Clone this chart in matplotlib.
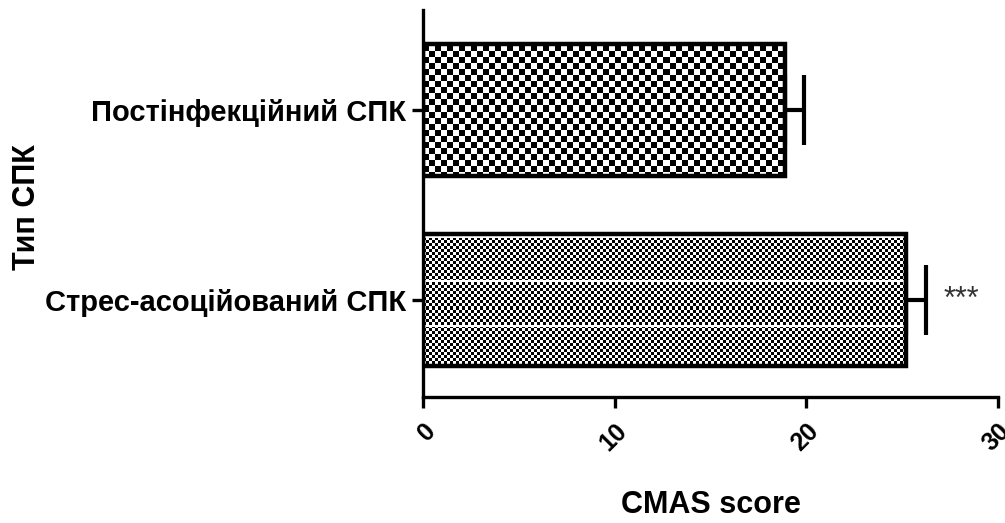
import numpy as np
import matplotlib
matplotlib.use('Agg')
import matplotlib.pyplot as plt

plt.rcParams['font.family'] = ['Liberation Sans', 'DejaVu Sans']

# CMAS score by IBS type (mean, SEM)
groups = ['Стрес-асоційований СПК', 'Постінфекційний СПК']
means = [25.2, 18.9]
errs = [1.05, 1.0]
marks = ['***', '']
x_ticks = [0, 10, 20, 30]

fig = plt.figure(figsize=(10.05, 5.23), dpi=100)
ax = fig.add_axes([0.421, 0.241, 0.572, 0.740])

pos = np.arange(len(groups))
bars = ax.barh(pos, means, height=0.695, facecolor='none', edgecolor='black',
               linewidth=3.2, zorder=3)

# checker fill, one texture per bar (cell size in pixels)
bb = ax.get_position()
W = int(round(bb.width * fig.get_figwidth() * fig.dpi))
H = int(round(bb.height * fig.get_figheight() * fig.dpi))
cells = [3, 6]
for bar, c in zip(bars, cells):
    yy, xx = np.mgrid[0:H, 0:W]
    tex = ((xx // c + yy // c) % 2).astype(float)
    if c == 3:
        # light banding in the fine pattern
        tex[(yy % 44 >= 7) & (yy % 44 < 9)] = 1.0
    im = ax.imshow(tex, cmap='gray', vmin=0, vmax=1, interpolation='nearest',
                   extent=(0, 1, 0, 1), transform=ax.transAxes, aspect='auto',
                   zorder=2)
    im.set_clip_path(bar)

ax.errorbar(means, pos, xerr=[[0] * len(errs), errs], fmt='none',
            ecolor='black', elinewidth=3, capsize=25, capthick=3, zorder=4)

for p, m, e, s in zip(pos, means, errs, marks):
    if s:
        ax.text(m + e + 0.9, p, s, ha='left', va='center', fontsize=22,
                color='#333333')

ax.set_xlim(0, 30)
ax.set_ylim(-0.51, 1.526)

ax.set_yticks(pos)
ax.set_yticklabels(groups, fontsize=21, fontweight='bold')
ax.set_xticks(x_ticks)
ax.set_xticklabels([str(t) for t in x_ticks], fontsize=18, fontweight='bold',
                   rotation=45, ha='right', va='top', rotation_mode='anchor')

ax.spines['top'].set_visible(False)
ax.spines['right'].set_visible(False)
for s in ('left', 'bottom'):
    ax.spines[s].set_linewidth(2.4)
ax.tick_params(axis='x', length=8, width=2.4, pad=8)
ax.tick_params(axis='y', length=8, width=2.4, pad=4)

ax.set_xlabel('CMAS score', fontsize=22, fontweight='bold')
ax.xaxis.set_label_coords(0.5, -0.24)
ax.set_ylabel('Тип СПК', fontsize=22, fontweight='bold')
ax.yaxis.set_label_coords(-0.663, 0.49)

fig.savefig('out.png', dpi=100)
